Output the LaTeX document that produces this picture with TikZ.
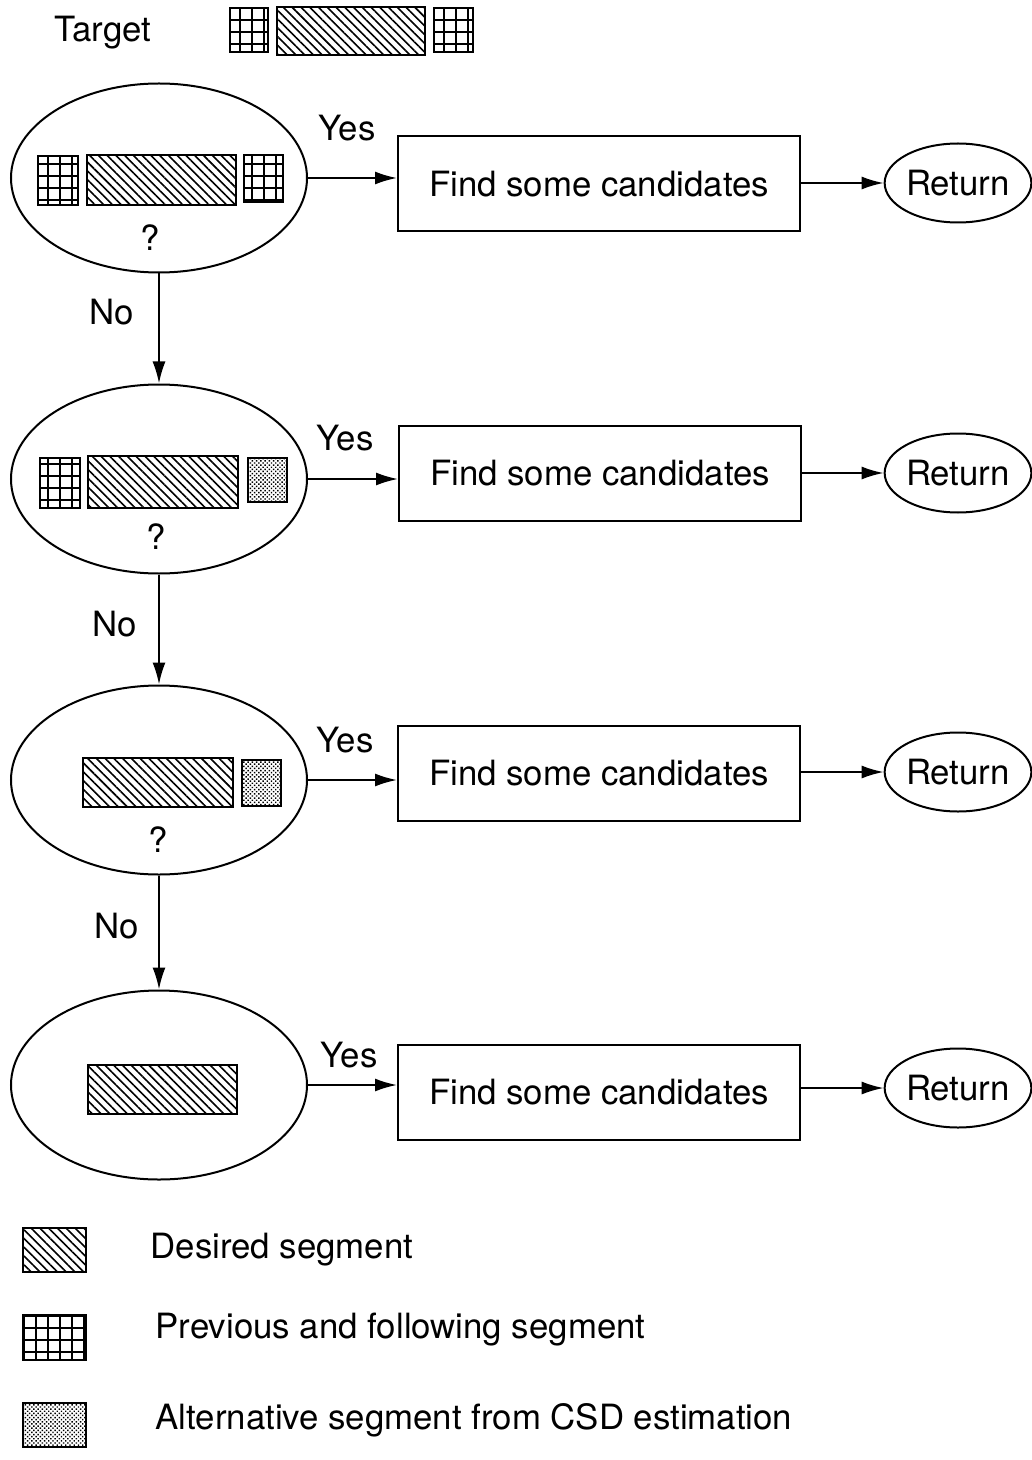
\documentclass[tikz,border=0pt]{standalone}
\usepackage{fontspec}
\setmainfont{TeX Gyre Heros}
\usepackage{tikz}
\usetikzlibrary{shapes.geometric,arrows.meta,patterns.meta}

\begin{document}
\begin{tikzpicture}[x=0.5pt,y=-0.5pt, line width=1pt,
every node/.style={font=\fontsize{17.4}{20}\selectfont},
test/.style={ellipse,draw,minimum width=148pt,minimum height=94.5pt,inner sep=0pt},
findbox/.style={rectangle,draw,minimum width=201pt,minimum height=47.5pt},
retnode/.style={ellipse,draw,minimum width=68pt,minimum height=39.5pt,inner sep=0pt},
arr/.style={-{Latex[length=11pt,width=6.5pt]}},
desired/.style={draw,line width=1.2pt,pattern={Lines[angle=-45,distance=3.1pt,line width=0.8pt]}},
prevseg/.style={draw,line width=1.2pt,pattern={Hatch[angle=0,distance=6pt,line width=0.8pt]}},
altseg/.style={draw,line width=1.2pt,pattern={Dots[angle=45,distance=1.5pt,radius=0.5pt]}}]
\useasboundingbox (0,0) rectangle (1032,1460);

% target
\node (target) at (103,33) {Target};
\draw[prevseg] (230,8) rectangle (268,52);
\draw[desired] (277,7) rectangle (425,55);
\draw[prevseg] (434,8) rectangle (473,52);

% tests
\node[test] (q1) at (159,178) {};
\node[test] (q2) at (159,479) {};
\node[test] (q3) at (159,780) {};
\node[test] (q4) at (159,1085) {};

\draw[prevseg] (38,156) rectangle (78,205);
\draw[desired] (87,155) rectangle (236,205);
\draw[prevseg] (244,155) rectangle (283,202);
\node (qm1) at (150,238) {?};

\draw[prevseg] (40,458) rectangle (80,508);
\draw[desired] (88,456) rectangle (238,508);
\draw[altseg] (248,458) rectangle (287,502);
\node (qm2) at (156,537) {?};

\draw[desired] (83,758) rectangle (233,807);
\draw[altseg] (242,760) rectangle (281,806);
\node (qm3) at (158,840) {?};

\draw[desired] (88,1065) rectangle (237,1114);

% candidates and return
\node[findbox] (find1) at (599,184) {Find some candidates};
\node[findbox] (find2) at (600,473) {Find some candidates};
\node[findbox] (find3) at (599,773) {Find some candidates};
\node[findbox] (find4) at (599,1092) {Find some candidates};

\node[retnode] (ret1) at (958,183) {Return};
\node[retnode] (ret2) at (958,473) {Return};
\node[retnode] (ret3) at (958,772) {Return};
\node[retnode] (ret4) at (958,1088) {Return};

\node (yes1) at (347,128) {Yes};
\node (yes2) at (345,438) {Yes};
\node (yes3) at (345,740) {Yes};
\node (yes4) at (349,1055) {Yes};
\node (no1) at (112,312) {No};
\node (no2) at (115,624) {No};
\node (no3) at (117,926) {No};

\draw[arr] (q1.east) -- (q1.east -| find1.west);
\draw[arr] (q2.east) -- (q2.east -| find2.west);
\draw[arr] (q3.east) -- (q3.east -| find3.west);
\draw[arr] (q4.east) -- (q4.east -| find4.west);
\draw[arr] (find1.east |- ret1.west) -- (ret1.west);
\draw[arr] (find2.east |- ret2.west) -- (ret2.west);
\draw[arr] (find3.east |- ret3.west) -- (ret3.west);
\draw[arr] (find4.east |- ret4.west) -- (ret4.west);
\draw[arr] (q1.south) -- (q2.north);
\draw[arr] (q2.south) -- (q3.north);
\draw[arr] (q3.south) -- (q4.north);

% legend
\draw[desired] (23,1228) rectangle (86,1272);
\draw[prevseg] (23,1315) rectangle (86,1360);
\draw[altseg] (23,1403) rectangle (86,1447);
\node[anchor=west] (leg1) at (143,1250) {Desired segment};
\node[anchor=west] (leg2) at (148,1330) {Previous and following segment};
\node[anchor=west] (leg3) at (148,1420) {Alternative segment from CSD estimation};
\end{tikzpicture}
\end{document}
